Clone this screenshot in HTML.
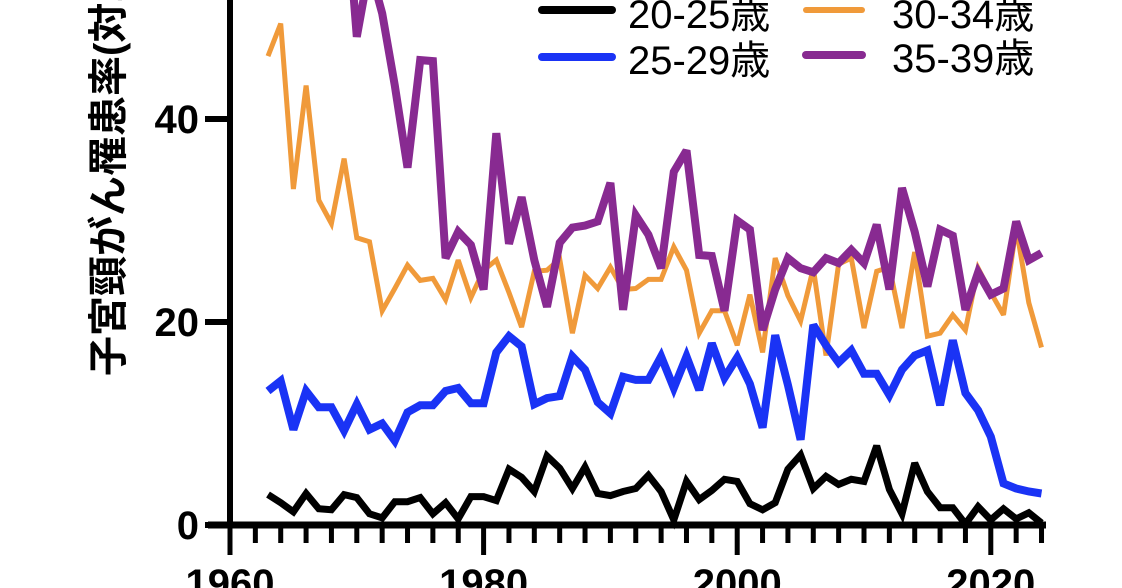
<!DOCTYPE html>
<html><head><meta charset="utf-8"><style>
html,body{margin:0;padding:0;background:#fff;width:1122px;height:588px;overflow:hidden}
svg{display:block}
</style></head><body>
<svg id="s" width="1122" height="588" xmlns="http://www.w3.org/2000/svg" font-family="Liberation Sans, Noto Sans CJK JP, sans-serif">
<text transform="translate(122,376) rotate(-90)" font-size="40" font-weight="bold" font-family="Liberation Sans, Noto Sans CJK JP, sans-serif">子宮頸がん罹患率(対10万人)</text>
<g id="ax"></g>
<g id="ser"></g>
<g font-size="40" fill="#000">
<line x1="542" y1="10" x2="612" y2="10" stroke="#000" stroke-width="8" stroke-linecap="round"/>
<text x="628" y="28">20-25歳</text>
<line x1="542" y1="57" x2="612" y2="57" stroke="#1a33f5" stroke-width="8" stroke-linecap="round"/>
<text x="628" y="74">25-29歳</text>
<line x1="806" y1="10" x2="862" y2="10" stroke="#f09a3a" stroke-width="6" stroke-linecap="round"/>
<text x="892" y="28">30-34歳</text>
<line x1="806" y1="55" x2="862" y2="55" stroke="#882a91" stroke-width="8" stroke-linecap="round"/>
<text x="892" y="72">35-39歳</text>
</g>
</svg>
<script>
var X=function(y){return 230+(y-1960)*12.68},Y=function(v){return 525-v*10.15};
var ax='';
ax+='<line x1="230" y1="0" x2="230" y2="528" stroke="#000" stroke-width="6"/>';
ax+='<line x1="208" y1="525" x2="1046" y2="525" stroke="#000" stroke-width="7"/>';
[0,20,40].forEach(function(v){ax+='<line x1="205" y1="'+Y(v)+'" x2="230" y2="'+Y(v)+'" stroke="#000" stroke-width="6"/>';
ax+='<text x="199" y="'+(Y(v)+14)+'" font-size="40" font-weight="bold" text-anchor="end">'+v+'</text>';});
for(var yr=1960;yr<=2024;yr+=2){var maj=yr%20==0;ax+='<line x1="'+X(yr)+'" y1="525" x2="'+X(yr)+'" y2="'+(maj?555:543)+'" stroke="#000" stroke-width="5"/>';
if(maj)ax+='<text x="'+X(yr)+'" y="597" font-size="40" font-weight="bold" text-anchor="middle">'+yr+'</text>';}
document.getElementById('ax').innerHTML=ax;
var black=[3.0,2.2,1.3,3.1,1.6,1.5,3.0,2.7,1.1,0.7,2.3,2.3,2.7,1.1,2.2,0.6,2.8,2.8,2.4,5.5,4.7,3.3,6.8,5.6,3.6,5.7,3.1,2.9,3.3,3.6,4.9,3.3,0.5,4.3,2.5,3.4,4.5,4.3,2.1,1.5,2.2,5.5,6.9,3.6,4.8,4.0,4.5,4.3,7.8,3.5,1.1,6.1,3.3,1.7,1.7,0.1,1.8,0.5,1.6,0.6,1.2,0.2];
var blue=[13.2,14.2,9.4,13.2,11.6,11.6,9.3,11.9,9.4,10.0,8.3,11.1,11.8,11.8,13.2,13.5,12.0,12.0,17.0,18.6,17.6,11.9,12.5,12.7,16.6,15.3,12.1,11.0,14.6,14.3,14.3,16.6,13.5,16.6,13.3,17.9,14.5,16.5,13.9,9.6,18.7,13.8,8.4,19.7,17.7,16.0,17.2,14.9,14.9,12.8,15.3,16.7,17.2,11.8,18.2,13.0,11.3,8.7,4.1,3.6,3.3,3.1];
var orange=[46.2,49.4,33.1,43.3,32.0,29.7,36.1,28.3,27.9,21.1,23.3,25.6,24.1,24.3,22.2,26.1,22.4,25.1,26.1,22.9,19.5,25.0,25.1,26.2,18.9,24.6,23.3,25.4,23.2,23.3,24.2,24.2,27.4,25.1,18.9,21.1,21.1,17.7,22.7,17.0,26.3,22.6,20.1,25.3,16.7,25.7,26.3,19.4,25.0,25.4,19.4,26.9,18.6,18.9,20.7,19.2,25.3,22.9,20.7,29.3,21.9,17.5];
var purple=[66,68,62,66,62,60,64,48.1,55,50.4,43.3,35.2,45.8,45.7,26.3,28.9,27.6,23.2,38.6,27.7,32.3,26.1,21.5,27.8,29.3,29.5,29.9,33.7,21.2,30.5,28.6,25.3,34.8,36.9,26.6,26.5,21.1,30.0,29.1,19.2,23.2,26.3,25.3,24.9,26.3,25.8,27.1,25.8,29.6,23.2,33.2,28.9,23.5,29.1,28.5,21.2,24.9,22.7,23.3,29.9,26.1,26.8];
function pl(d,c,w){var p=d.map(function(v,i){return X(1963+i).toFixed(1)+','+Y(v).toFixed(1)}).join(' ');
return '<polyline points="'+p+'" fill="none" stroke="'+c+'" stroke-width="'+w+'" stroke-linejoin="miter" stroke-miterlimit="3"/>';}
document.getElementById('ser').innerHTML=pl(orange,'#f09a3a',5)+pl(purple,'#882a91',8)+pl(blue,'#1a33f5',8)+pl(black,'#000',7);
</script>
</body></html>
